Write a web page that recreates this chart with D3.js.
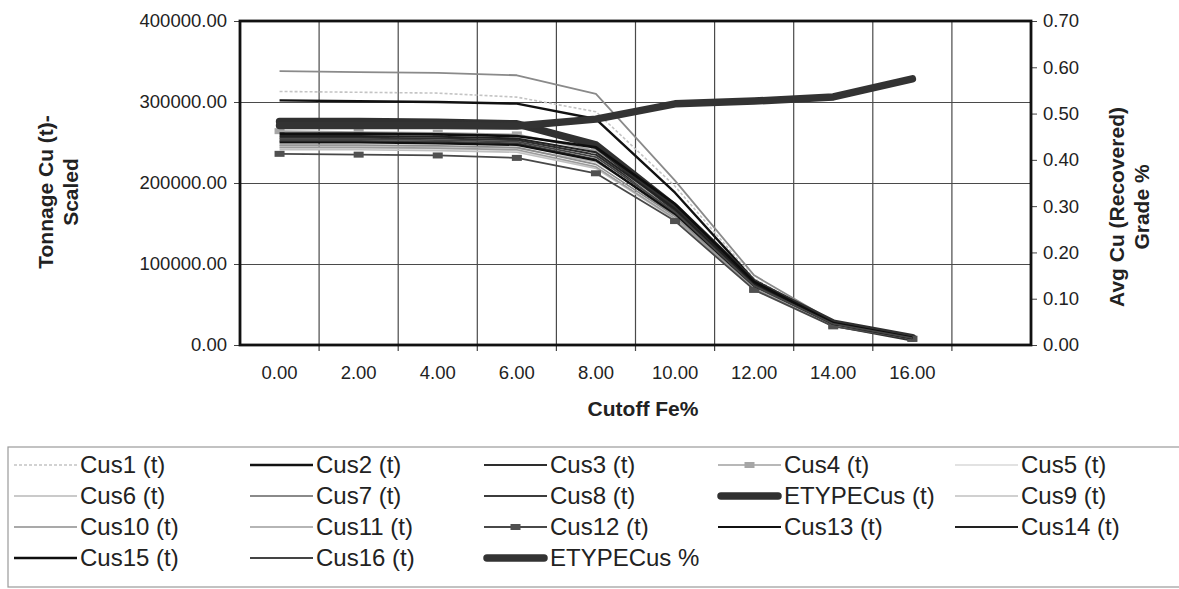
<!DOCTYPE html>
<html>
<head>
<meta charset="utf-8">
<script src="https://cdn.jsdelivr.net/npm/d3@7"></script>
<style>
  html, body { margin: 0; padding: 0; background: #fff; }
  svg { display: block; font-family: "Liberation Sans", Arial, sans-serif; }
</style>
</head>
<body>
<svg id="chart" width="1179" height="589"></svg>
<script>
// Cutoff grades (Fe%) on the category axis; the last slot is an empty category
const cutoffLabels = ["0.00", "2.00", "4.00", "6.00", "8.00", "10.00", "12.00", "14.00", "16.00", ""];

// Scaled copper tonnage per customer at each cutoff (t)
const cus1  = [313000, 312000, 311000, 306000, 288000, 196000, 82000, 28000, 9000];
const cus2  = [302000, 301000, 300000, 298000, 279000, 188000, 80000, 28000, 9000];
const cus3  = [256000, 256000, 255000, 253000, 235000, 166000, 74000, 26000, 8500];
const cus4  = [264000, 263000, 262000, 260000, 240000, 163000, 69000, 24000, 8000];
const cus5  = [243000, 243000, 242000, 240000, 219000, 157000, 70000, 25000, 8000];
const cus6  = [246000, 246000, 245000, 243000, 226000, 165000, 75000, 27000, 9000];
const cus7  = [338000, 337000, 336000, 333000, 310000, 203000, 86000, 29000, 9500];
const cus8  = [252000, 252000, 251000, 249000, 229000, 160000, 72000, 25000, 8000];
const etypeCusT = [276000, 276000, 275000, 273000, 247000, 170000, 76000, 27000, 9000];
const cus9  = [241000, 241000, 240000, 238000, 218000, 155000, 69000, 24000, 8000];
const cus10 = [247000, 247000, 246000, 244000, 223000, 159000, 71000, 25000, 8000];
const cus11 = [244000, 244000, 243000, 241000, 220000, 156000, 70000, 24000, 8000];
const cus12 = [236000, 235000, 234000, 231000, 212000, 153000, 68000, 23000, 7500];
const cus13 = [250000, 250000, 249000, 247000, 228000, 162000, 73000, 26000, 8500];
const cus14 = [258000, 258000, 257000, 255000, 238000, 168000, 75000, 27000, 9000];
const cus15 = [261000, 261000, 260000, 258000, 244000, 174000, 78000, 27000, 9000];
const cus16 = [254000, 254000, 253000, 251000, 232000, 164000, 73000, 26000, 8500];

// Average recovered Cu grade (%) of the combined ETYPE material, right axis
const etypeCusPct = [0.474, 0.474, 0.474, 0.473, 0.488, 0.521, 0.527, 0.536, 0.575];

// Axis tick values
const tonnageTicks = [0, 100000, 200000, 300000, 400000];
const gradeTicks = [0, 0.1, 0.2, 0.3, 0.4, 0.5, 0.6, 0.7];

// Series in legend / drawing order with their line styles
const series = [
  { name: "Cus1 (t)",      values: cus1,  axis: "L", color: "#c4c4c4", width: 1.6, dash: "3,2" },
  { name: "Cus2 (t)",      values: cus2,  axis: "L", color: "#111111", width: 2.4 },
  { name: "Cus3 (t)",      values: cus3,  axis: "L", color: "#2e2e2e", width: 2.0 },
  { name: "Cus4 (t)",      values: cus4,  axis: "L", color: "#a0a0a0", width: 1.6, marker: "#a6a6a6" },
  { name: "Cus5 (t)",      values: cus5,  axis: "L", color: "#d8d8d8", width: 1.6 },
  { name: "Cus6 (t)",      values: cus6,  axis: "L", color: "#b8b8b8", width: 1.6 },
  { name: "Cus7 (t)",      values: cus7,  axis: "L", color: "#8a8a8a", width: 1.8 },
  { name: "Cus8 (t)",      values: cus8,  axis: "L", color: "#3c3c3c", width: 2.0 },
  { name: "ETYPECus (t)",  values: etypeCusT, axis: "L", color: "#303030", width: 7.5 },
  { name: "Cus9 (t)",      values: cus9,  axis: "L", color: "#c0c0c0", width: 1.6 },
  { name: "Cus10 (t)",     values: cus10, axis: "L", color: "#8c8c8c", width: 1.6 },
  { name: "Cus11 (t)",     values: cus11, axis: "L", color: "#9c9c9c", width: 1.6 },
  { name: "Cus12 (t)",     values: cus12, axis: "L", color: "#484848", width: 1.8, marker: "#505050" },
  { name: "Cus13 (t)",     values: cus13, axis: "L", color: "#111111", width: 2.2 },
  { name: "Cus14 (t)",     values: cus14, axis: "L", color: "#222222", width: 2.0 },
  { name: "Cus15 (t)",     values: cus15, axis: "L", color: "#0e0e0e", width: 2.6 },
  { name: "Cus16 (t)",     values: cus16, axis: "L", color: "#444444", width: 1.8 },
  { name: "ETYPECus %",    values: etypeCusPct, axis: "R", color: "#333333", width: 7.5 }
];

const svg = d3.select("#chart");
const plot = { left: 240, right: 1031, top: 21, bottom: 345 };
const textColor = "#222";
const font = "Liberation Sans, Arial, sans-serif";

const x = d3.scaleBand()
  .domain(d3.range(cutoffLabels.length))
  .range([plot.left, plot.right])
  .paddingInner(0).paddingOuter(0);
const xc = i => x(i) + x.bandwidth() / 2;

const yL = d3.scaleLinear().domain([0, 400000]).range([plot.bottom, plot.top]);
const yR = d3.scaleLinear().domain([0, 0.7]).range([plot.bottom, plot.top]);

// Horizontal gridlines at the tonnage ticks
svg.append("g")
  .attr("transform", `translate(${plot.left},0)`)
  .call(d3.axisLeft(yL).tickValues(tonnageTicks.slice(1, -1))
    .tickSize(-(plot.right - plot.left)).tickFormat(""))
  .call(g => g.select(".domain").remove())
  .call(g => g.selectAll("line").attr("stroke", "#4a4a4a").attr("stroke-width", 1.2));

// Vertical gridlines between categories
const boundaries = x.domain().slice(1);
svg.append("g").selectAll("line")
  .data(boundaries)
  .join("line")
  .attr("x1", d => x(d)).attr("x2", d => x(d))
  .attr("y1", plot.top).attr("y2", plot.bottom)
  .attr("stroke", "#4a4a4a").attr("stroke-width", 1.2);

// Category tick marks below the axis
svg.append("g").selectAll("line")
  .data(boundaries)
  .join("line")
  .attr("x1", d => x(d)).attr("x2", d => x(d))
  .attr("y1", plot.bottom).attr("y2", plot.bottom + 6)
  .attr("stroke", "#444").attr("stroke-width", 1.2);

// Category labels
svg.append("g")
  .attr("transform", `translate(0,${plot.bottom})`)
  .call(d3.axisBottom(x).tickSize(0).tickPadding(21).tickFormat(i => cutoffLabels[i]))
  .call(g => g.select(".domain").remove())
  .call(g => g.selectAll("text").attr("font-size", 18.5).attr("fill", textColor)
    .attr("font-family", font));

// Left axis
svg.append("g")
  .attr("transform", `translate(${plot.left},0)`)
  .call(d3.axisLeft(yL).tickValues(tonnageTicks).tickSize(6).tickPadding(7)
    .tickFormat(d => d.toFixed(2)))
  .call(g => g.select(".domain").remove())
  .call(g => g.selectAll("line").attr("stroke", "#444"))
  .call(g => g.selectAll("text").attr("font-size", 18.5).attr("fill", textColor)
    .attr("font-family", font));

// Right axis
svg.append("g")
  .attr("transform", `translate(${plot.right},0)`)
  .call(d3.axisRight(yR).tickValues(gradeTicks).tickSize(6).tickPadding(6)
    .tickFormat(d => d.toFixed(2)))
  .call(g => g.select(".domain").remove())
  .call(g => g.selectAll("line").attr("stroke", "#444"))
  .call(g => g.selectAll("text").attr("font-size", 18.5).attr("fill", textColor)
    .attr("font-family", font));

// Plot frame
svg.append("rect")
  .attr("x", plot.left).attr("y", plot.top)
  .attr("width", plot.right - plot.left).attr("height", plot.bottom - plot.top)
  .attr("fill", "none").attr("stroke", "#111").attr("stroke-width", 2.8);

// Series lines
const lineFor = s => d3.line()
  .x((d, i) => xc(i))
  .y(d => (s.axis === "L" ? yL : yR)(d));

const seriesG = svg.append("g");
series.forEach(s => {
  seriesG.append("path")
    .datum(s.values)
    .attr("fill", "none")
    .attr("stroke", s.color)
    .attr("stroke-width", s.width)
    .attr("stroke-dasharray", s.dash || null)
    .attr("stroke-linejoin", "round")
    .attr("stroke-linecap", s.width > 5 ? "round" : "butt")
    .attr("d", lineFor(s));
  if (s.marker) {
    seriesG.append("g").selectAll("rect")
      .data(s.values)
      .join("rect")
      .attr("x", (d, i) => xc(i) - 5)
      .attr("y", d => yL(d) - 3)
      .attr("width", 10).attr("height", 6)
      .attr("fill", s.marker);
  }
});

// Axis titles
function title(lines, cx, cy, rotate) {
  const t = svg.append("text")
    .attr("transform", `translate(${cx},${cy}) rotate(${rotate})`)
    .attr("text-anchor", "middle")
    .attr("fill", textColor)
    .attr("font-weight", "bold")
    .attr("font-size", 21);
  lines.forEach((ln, k) => {
    t.append("tspan").attr("x", 0).attr("dy", k === 0 ? 0 : 25).text(ln);
  });
}
title(["Tonnage Cu (t)-", "Scaled"], 53, 192, -90);
title(["Avg Cu (Recovered)", "Grade %"], 1124, 207, -90);
svg.append("text")
  .attr("x", 643).attr("y", 416)
  .attr("text-anchor", "middle")
  .attr("fill", textColor)
  .attr("font-weight", "bold")
  .attr("font-size", 21)
  .text("Cutoff Fe%");

// Legend
const legendBox = { x: 8, y: 447, w: 1190, h: 140 };
svg.append("rect")
  .attr("x", legendBox.x).attr("y", legendBox.y)
  .attr("width", legendBox.w).attr("height", legendBox.h)
  .attr("fill", "none").attr("stroke", "#9a9a9a").attr("stroke-width", 1.2);

const legendTextX = [80, 316, 550, 784, 1021];
const legendRowY = [465, 496, 527, 558];
const legendG = svg.append("g");
series.forEach((s, k) => {
  const col = k % 5, row = Math.floor(k / 5);
  const tx = legendTextX[col], ty = legendRowY[row];
  const x0 = tx - 66, x1 = tx - 3;
  legendG.append("line")
    .attr("x1", x0 + (s.width > 5 ? 3 : 0)).attr("x2", x1 - (s.width > 5 ? 3 : 0))
    .attr("y1", ty).attr("y2", ty)
    .attr("stroke", s.color)
    .attr("stroke-width", s.width)
    .attr("stroke-dasharray", s.dash || null)
    .attr("stroke-linecap", s.width > 5 ? "round" : "butt");
  if (s.marker) {
    legendG.append("rect")
      .attr("x", (x0 + x1) / 2 - 5).attr("y", ty - 3)
      .attr("width", 10).attr("height", 6)
      .attr("fill", s.marker);
  }
  legendG.append("text")
    .attr("x", tx).attr("y", ty)
    .attr("dy", "0.35em")
    .attr("font-size", 24)
    .attr("fill", textColor)
    .text(s.name);
});
</script>
</body>
</html>
